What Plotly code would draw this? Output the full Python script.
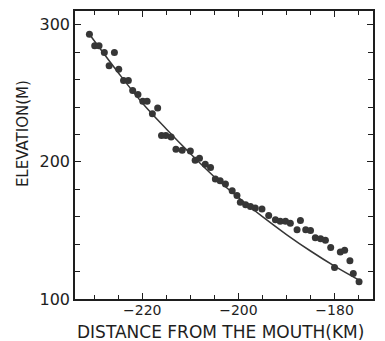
import plotly.graph_objects as go

# Observed river-bed elevations along the channel
distance_km = [
    -231.0, -229.9, -229.0, -227.9, -225.8, -226.9, -224.9, -223.9, -222.9, -222.0,
    -220.9, -219.9, -219.0, -216.8, -217.9, -216.0, -215.1, -214.0, -213.0, -211.7,
    -210.0, -209.0, -208.1, -206.9, -205.8, -204.8, -203.8, -202.7, -201.3, -200.3,
    -199.6, -198.5, -197.5, -196.5, -195.1, -193.7, -192.3, -191.3, -190.2, -189.2,
    -187.1, -187.8, -186.0, -185.0, -184.0, -182.9, -181.9, -180.8, -178.8, -177.9,
    -176.8, -180.0, -176.1, -174.9,
]
elevation_m = [
    293.0, 284.6, 284.6, 279.7, 279.7, 270.1, 267.6, 259.4, 259.4, 252.0,
    249.1, 244.2, 244.2, 239.3, 235.0, 219.3, 219.3, 218.1, 209.2, 208.5,
    208.0, 201.2, 202.7, 198.3, 195.9, 187.5, 186.2, 183.8, 179.0, 175.4,
    170.5, 168.8, 167.4, 166.4, 165.7, 160.9, 157.8, 156.7, 156.7, 155.3,
    157.2, 150.5, 150.5, 150.0, 144.7, 144.0, 142.8, 137.5, 134.3, 135.5,
    127.8, 123.0, 118.6, 112.5,
]

# Fitted longitudinal profile
fit_distance_km = [-231, -225, -220, -215, -210, -205, -200, -195, -190, -185, -180, -175]
fit_elevation_m = [293, 265, 243, 224, 206, 189, 174, 160, 147, 135, 124, 114]

x_tick_values = [-220, -200, -180]
y_tick_values = [100, 200, 300]

ink = "#1e1e1e"
mark = "#363636"
font = "DejaVu Sans"

fig = go.Figure()
fig.add_trace(go.Scatter(
    x=fit_distance_km, y=fit_elevation_m, mode="lines",
    line=dict(color=mark, width=1.5, shape="spline"),
    hoverinfo="skip",
))
fig.add_trace(go.Scatter(
    x=distance_km, y=elevation_m, mode="markers",
    marker=dict(color=mark, size=7, line=dict(width=0)),
))

axis_common = dict(
    showgrid=False, zeroline=False, showline=True, linecolor=ink, linewidth=1.5,
    mirror="ticks", ticks="inside", ticklen=6, tickwidth=1.2, tickcolor=ink,
)

fig.update_xaxes(
    range=[-234, -172], tickvals=x_tick_values,
    tickfont=dict(family=font, size=14, color=ink), ticklabelstandoff=-3,
    minor=dict(dtick=5, tick0=-220, ticks="inside", ticklen=4, tickcolor=ink, tickwidth=1),
    **axis_common,
)
fig.update_yaxes(
    range=[100, 310], tickvals=y_tick_values,
    tickfont=dict(family=font, size=16, color=ink),
    minor=dict(dtick=20, tick0=100, ticks="inside", ticklen=5, tickcolor=ink, tickwidth=1),
    **axis_common,
)

fig.add_annotation(
    text="DISTANCE FROM THE MOUTH(KM)", xref="paper", yref="paper",
    x=0.4866, y=-0.0724, xanchor="center", yanchor="top", showarrow=False,
    font=dict(family=font, size=17, color=ink),
)
fig.add_annotation(
    text="ELEVATION(M)", xref="paper", yref="paper", textangle=-90,
    x=-0.1745, y=0.576, xanchor="center", yanchor="middle", showarrow=False,
    font=dict(family=font, size=15, color=ink),
)

fig.update_layout(
    width=385, height=341,
    margin=dict(l=75, r=12, t=9, b=42),
    paper_bgcolor="white", plot_bgcolor="white",
    showlegend=False,
)

fig.write_html("out.html")
